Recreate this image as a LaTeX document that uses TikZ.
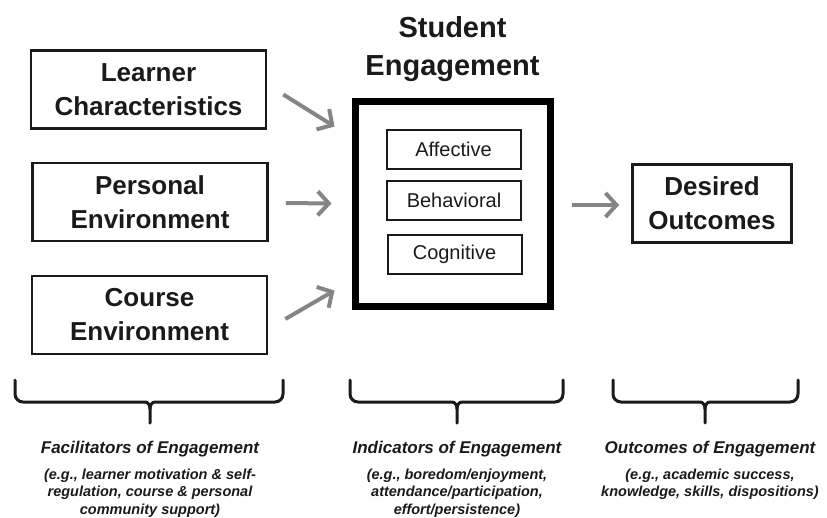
\documentclass[tikz,border=0pt]{standalone}
\usepackage{fontspec}
\setmainfont{Liberation Sans}
\usetikzlibrary{calc,arrows.meta,positioning}
\definecolor{ink}{HTML}{1A1A1A}
\definecolor{arrowgray}{HTML}{858585}
\tikzset{
  factor/.style={draw=ink,line width=2.6pt,minimum width=235pt,minimum height=78pt,inner sep=0pt,
    align=center,text=ink,font=\fontsize{26}{34}\selectfont\bfseries},
  facet/.style={draw=ink,line width=2pt,minimum width=134pt,minimum height=39pt,inner sep=0pt,
    text=ink,font=\fontsize{20}{24}\selectfont},
  flow/.style={draw=arrowgray,line width=4pt,-{Straight Barb[length=11pt,width=24pt]}},
  bracket/.style={draw=ink,line width=3pt,line cap=round},
  head/.style={text=ink,inner sep=0pt,font=\fontsize{17}{20}\selectfont\bfseries\itshape},
  note/.style={text=ink,inner sep=0pt,align=center,font=\fontsize{14.5}{17.5}\selectfont\bfseries\itshape}
}
\begin{document}
\begin{tikzpicture}[x=1pt,y=-1pt]
  \useasboundingbox (0,0) rectangle (827,517);

  \node[factor] (learner) at (148.5,89.5) {Learner\\Characteristics};
  \node[factor] (personal) at (150,202) {Personal\\Environment};
  \node[factor] (course) at (149.5,315) {Course\\Environment};

  \node[align=center,inner sep=0pt,text=ink,font=\fontsize{29}{38}\selectfont\bfseries] (title) at (452.5,49.5) {Student\\Engagement};
  \node[draw=black,line width=7pt,minimum width=195pt,minimum height=205pt] (engage) at (452.5,203.5) {};
  \node[facet] (affective) at (453.5,149.5) {Affective};
  \node[facet] (behavioral) at (454,200.5) {Behavioral};
  \node[facet] (cognitive) at (454.5,254) {Cognitive};

  \node[factor,minimum width=159pt,minimum height=78.5pt] (desired) at (712,203.5) {Desired\\Outcomes};

  \draw[flow] ($(learner.east)+(16,5)$) -- ($(engage.north west)+(-17,29)$);
  \draw[flow] ($(personal.east)+(17,1)$) -- ($(engage.west)+(-20,0)$);
  \draw[flow] ($(course.east)+(17,4)$) -- ($(engage.south west)+(-17,-19)$);
  \draw[flow] ($(engage.east)+(18,1.5)$) -- ($(desired.west)+(-12,1.5)$);

  \foreach \l/\m/\r in {15/150/283, 350/457/563, 613/705/798}{
    \draw[bracket] (\l,380) -- (\l,394) to[out=-90,in=180] (\l+8,402) -- (\m-5,402) to[out=0,in=90] (\m,409) -- (\m,423);
    \draw[bracket] (\m,409) to[out=90,in=180] (\m+5,402) -- (\r-8,402) to[out=0,in=-90] (\r,394) -- (\r,380);
  }

  \node[head,anchor=base] (facil) at (150,453) {Facilitators of Engagement};
  \node[note,below=12pt of facil] (facilnote) {(e.g., learner motivation \& self-\\regulation, course \& personal\\community support)};
  \node[head,anchor=base] (indic) at (457,453) {Indicators of Engagement};
  \node[note,below=12pt of indic] (indicnote) {(e.g., boredom/enjoyment,\\attendance/participation,\\effort/persistence)};
  \node[head,anchor=base] (outcome) at (710,453) {Outcomes of Engagement};
  \node[note,below=12pt of outcome] (outcomenote) {(e.g., academic success,\\knowledge, skills, dispositions)};
\end{tikzpicture}
\end{document}
